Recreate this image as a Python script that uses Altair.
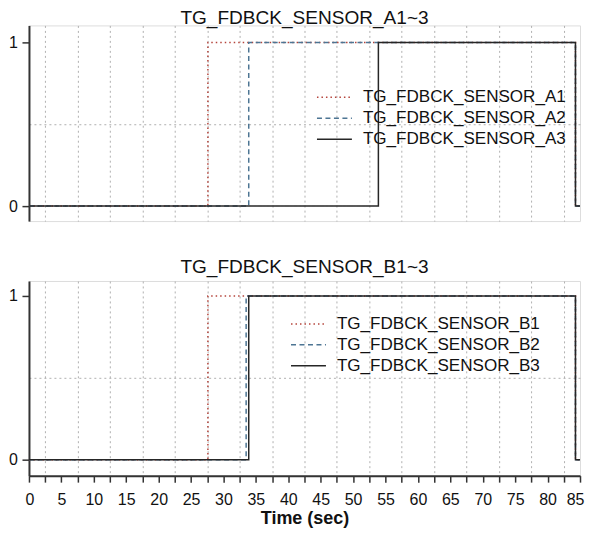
import altair as alt
import pandas as pd

FONT = "Liberation Sans"

# ---- data ----
names_a = ["TG_FDBCK_SENSOR_A1", "TG_FDBCK_SENSOR_A2", "TG_FDBCK_SENSOR_A3"]
times_a = [
    [0.0, 27.6, 84.3, 85.0],
    [0.0, 33.9, 84.3, 85.0],
    [0.0, 53.9, 84.3, 85.0],
]
values_a = [
    [0, 1, 0, 0],
    [0, 1, 0, 0],
    [0, 1, 0, 0],
]

names_b = ["TG_FDBCK_SENSOR_B1", "TG_FDBCK_SENSOR_B2", "TG_FDBCK_SENSOR_B3"]
times_b = [
    [0.0, 27.6, 84.3, 85.0],
    [0.0, 33.5, 84.3, 85.0],
    [0.0, 33.9, 84.3, 85.0],
]
values_b = [
    [0, 1, 0, 0],
    [0, 1, 0, 0],
    [0, 1, 0, 0],
]

x_ticks = [i * 2.5 for i in range(35)]
y_ticks = [0, 0.5, 1]

line_colors = ["#b5453c", "#4d7593", "#262626"]
line_dashes = [[1.5, 3], [5, 3.5], [1, 0]]

W = 552


def make_df(names, times, values):
    rows = []
    for n, ts, vs in zip(names, times, values):
        for i, (t, v) in enumerate(zip(ts, vs)):
            rows.append({"series": n, "time": t, "value": v, "idx": i})
    return pd.DataFrame(rows)


def panel(names, times, values, title, ydom, height, show_x, lx, ly, toff):
    df = make_df(names, times, values)
    grid_cond = {"condition": {"test": "datum.value % 5 !== 0", "value": 1}, "value": 0}
    if show_x:
        x_axis = alt.Axis(
            values=x_ticks,
            labelExpr="datum.value % 5 === 0 ? format(datum.value, 'd') : ''",
            grid=True, gridDash=[2, 3], gridColor="#b0b0b0", gridOpacity=grid_cond,
            domainColor="#333333", domainWidth=2,
            tickColor="#333333", tickWidth=1.5, tickSize=6.5,
            labelFont=FONT, labelFontSize=16, labelColor="#111111", labelPadding=9,
            labelFlush=True, labelFlushOffset=4, labelOverlap=False,
            title="Time (sec)", titleFont=FONT, titleFontSize=18, titleFontWeight="bold",
            titleColor="#111111", titlePadding=2,
        )
    else:
        x_axis = alt.Axis(
            values=x_ticks,
            grid=True, gridDash=[2, 3], gridColor="#b0b0b0", gridOpacity=grid_cond,
            domain=False, ticks=False, labels=False, title=None,
        )
    y_axis = alt.Axis(
        values=y_ticks,
        labelExpr="datum.value === 0.5 ? '' : format(datum.value, 'd')",
        grid=True, gridDash=[2, 3], gridColor="#b0b0b0",
        gridOpacity={"condition": {"test": "datum.value === 0.5", "value": 1}, "value": 0},
        domainColor="#333333", domainWidth=2,
        tickColor="#333333", tickWidth=1.5, tickSize=7,
        tickOpacity={"condition": {"test": "datum.value === 0.5", "value": 0}, "value": 1},
        labelFont=FONT, labelFontSize=16, labelColor="#111111", labelPadding=4.5,
        title=None,
    )
    legend = alt.Legend(
        title=None, orient="none", legendX=lx, legendY=ly,
        symbolType="stroke", symbolSize=1225, symbolStrokeWidth=1.5,
        labelFont=FONT, labelFontSize=17.1, labelColor="#111111", labelOffset=10,
        rowPadding=0, clipHeight=21, padding=0, labelLimit=400,
    )
    return (
        alt.Chart(df)
        .mark_line(interpolate="step-after", strokeWidth=1.5)
        .encode(
            x=alt.X("time:Q", scale=alt.Scale(domain=[0, 85], nice=False, zero=False), axis=x_axis),
            y=alt.Y("value:Q", scale=alt.Scale(domain=ydom, nice=False, zero=False), axis=y_axis),
            color=alt.Color("series:N", scale=alt.Scale(domain=names, range=line_colors), legend=legend),
            strokeDash=alt.StrokeDash("series:N", scale=alt.Scale(domain=names, range=line_dashes), legend=legend),
            order="idx:Q",
        )
        .properties(
            width=W, height=height,
            title=alt.TitleParams(title, font=FONT, fontSize=19.1, fontWeight="normal",
                                  color="#111111", offset=toff),
        )
    )


top = panel(names_a, times_a, values_a, "TG_FDBCK_SENSOR_A1~3", [-0.092, 1.104], 196, False, 287.5, 61.5, -3)
bottom = panel(names_b, times_b, values_b, "TG_FDBCK_SENSOR_B1~3", [-0.0976, 1.0915], 195, True, 261.5, 32.5, 4)

chart = (
    alt.vconcat(top, bottom, spacing=35)
    .resolve_scale(color="independent", strokeDash="independent")
    .resolve_legend(color="independent", strokeDash="independent")
    .properties(padding={"left": 0, "top": 0, "right": 0, "bottom": 0})
    .configure_view(stroke=None)
    .configure(background="white")
)

chart.save("out.html", embed_options={"renderer": "svg", "actions": False})
